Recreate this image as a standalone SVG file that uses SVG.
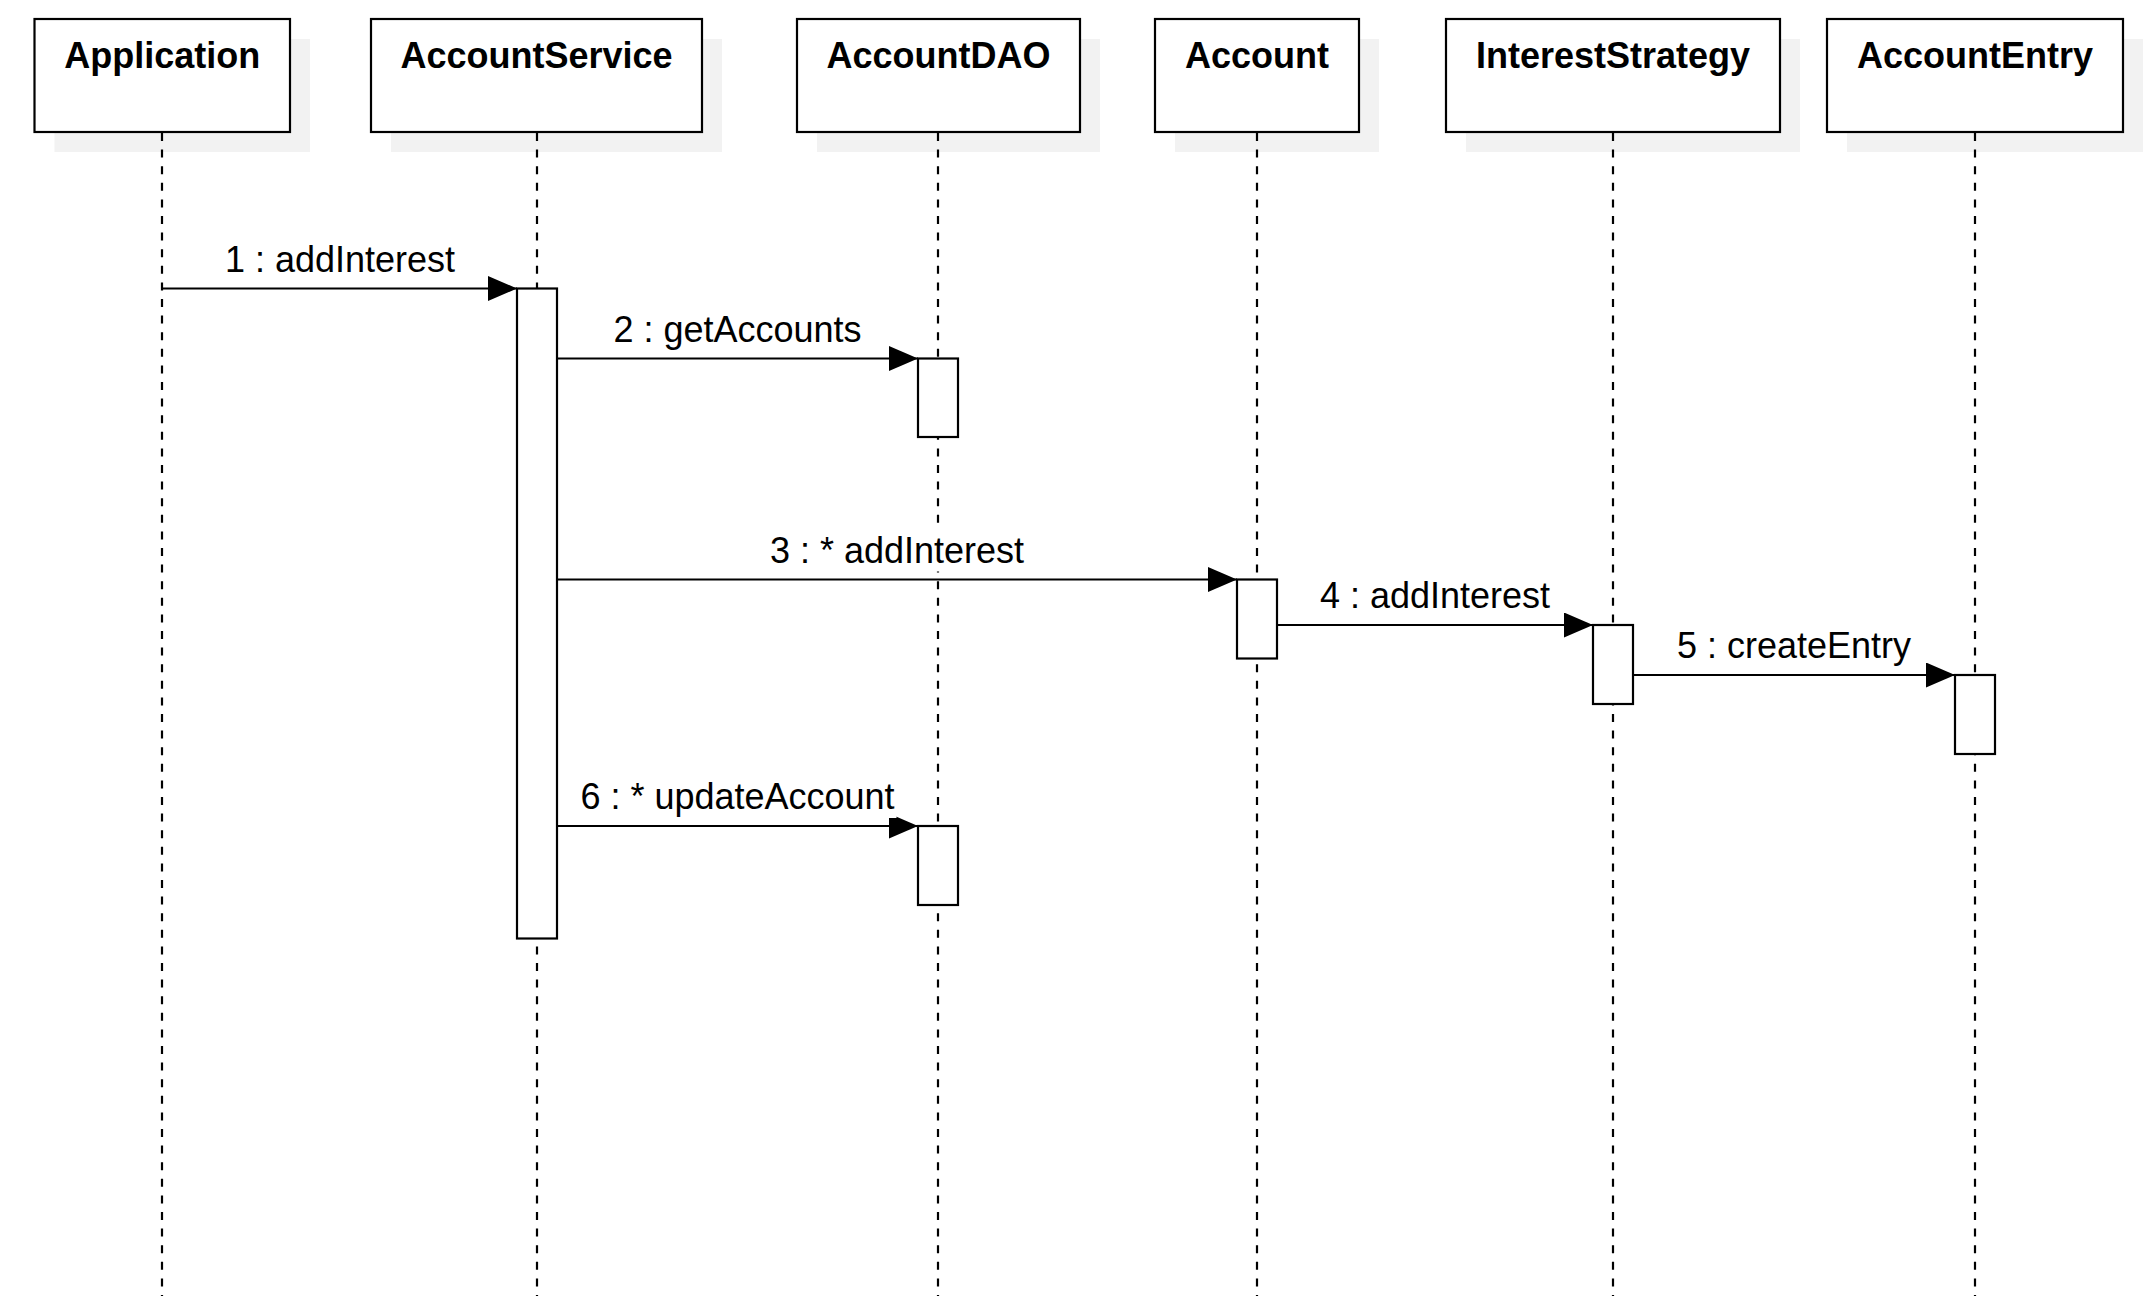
<svg xmlns="http://www.w3.org/2000/svg" width="2154" height="1296" viewBox="0 0 2154 1296">
<style>
.bg{fill:#ffffff}
.shadow{fill:#f2f2f2;stroke:none}
.box{fill:#ffffff;stroke:#000000;stroke-width:2.2}
.title{font-family:"Liberation Sans",Arial,sans-serif;font-size:36px;font-weight:bold;fill:#000000;text-anchor:middle}
.life{stroke:#000000;stroke-width:2.2;stroke-dasharray:8 8.6;fill:none}
.act{fill:#ffffff;stroke:#000000;stroke-width:2.2}
.msg{stroke:#000000;stroke-width:2.2;fill:none;marker-end:url(#arrow)}
.lblbg{fill:#ffffff;stroke:none}
.label{font-family:"Liberation Sans",Arial,sans-serif;font-size:36px;fill:#000000;text-anchor:middle}
</style>
<defs>
<marker id="arrow" viewBox="0 0 29 25" markerWidth="29" markerHeight="25" refX="29" refY="12.5" orient="auto" markerUnits="userSpaceOnUse">
<path d="M0,0 L29,12.5 L0,25 Z" fill="#000000"/>
</marker>
</defs>
<rect class="bg" x="0" y="0" width="2154" height="1296"/>

<g id="Application">
<rect class="shadow" x="54.5" y="39" width="255.5" height="113"/>
<line class="life" x1="162" y1="133" x2="162" y2="1296"/>
<rect class="box" x="34.5" y="19" width="255.5" height="113"/>
<text class="title" x="162.2" y="68">Application</text>
</g>
<g id="AccountService">
<rect class="shadow" x="391" y="39" width="331" height="113"/>
<line class="life" x1="537" y1="133" x2="537" y2="1296"/>
<rect class="box" x="371" y="19" width="331" height="113"/>
<text class="title" x="536.5" y="68">AccountService</text>
</g>
<g id="AccountDAO">
<rect class="shadow" x="817" y="39" width="283" height="113"/>
<line class="life" x1="938" y1="133" x2="938" y2="1296"/>
<rect class="box" x="797" y="19" width="283" height="113"/>
<text class="title" x="938.5" y="68">AccountDAO</text>
</g>
<g id="Account">
<rect class="shadow" x="1175" y="39" width="204" height="113"/>
<line class="life" x1="1257" y1="133" x2="1257" y2="1296"/>
<rect class="box" x="1155" y="19" width="204" height="113"/>
<text class="title" x="1257" y="68">Account</text>
</g>
<g id="InterestStrategy">
<rect class="shadow" x="1466" y="39" width="334" height="113"/>
<line class="life" x1="1613" y1="133" x2="1613" y2="1296"/>
<rect class="box" x="1446" y="19" width="334" height="113"/>
<text class="title" x="1613" y="68">InterestStrategy</text>
</g>
<g id="AccountEntry">
<rect class="shadow" x="1847" y="39" width="296" height="113"/>
<line class="life" x1="1975" y1="133" x2="1975" y2="1296"/>
<rect class="box" x="1827" y="19" width="296" height="113"/>
<text class="title" x="1975" y="68">AccountEntry</text>
</g>

<g id="activations">
<rect class="act" x="517" y="288.5" width="40" height="650"/>
<rect class="act" x="918" y="358.5" width="40" height="78.5"/>
<rect class="act" x="1237" y="579.5" width="40" height="79"/>
<rect class="act" x="1593" y="625" width="40" height="79"/>
<rect class="act" x="1955" y="675" width="40" height="79"/>
<rect class="act" x="918" y="826" width="40" height="79"/>
</g>

<g id="connectors">
<line class="msg" x1="162" y1="288.5" x2="517" y2="288.5"/>
<line class="msg" x1="557" y1="358.5" x2="918" y2="358.5"/>
<line class="msg" x1="557" y1="579.5" x2="1237" y2="579.5"/>
<line class="msg" x1="1277" y1="625" x2="1593" y2="625"/>
<line class="msg" x1="1633" y1="675" x2="1955" y2="675"/>
<line class="msg" x1="557" y1="826" x2="918" y2="826"/>
<rect class="lblbg" x="223" y="236.5" width="234" height="44"/>
<text class="label" x="340" y="271.5">1 : addInterest</text>
<rect class="lblbg" x="611.5" y="306.5" width="252" height="44"/>
<text class="label" x="737.5" y="341.5">2 : getAccounts</text>
<rect class="lblbg" x="768" y="527.5" width="258" height="44"/>
<text class="label" x="897" y="562.5">3 : * addInterest</text>
<rect class="lblbg" x="1318" y="573" width="234" height="44"/>
<text class="label" x="1435" y="608">4 : addInterest</text>
<rect class="lblbg" x="1675" y="623" width="238" height="44"/>
<text class="label" x="1794" y="658">5 : createEntry</text>
<rect class="lblbg" x="578.5" y="774" width="318" height="44"/>
<text class="label" x="737.5" y="809">6 : * updateAccount</text>
</g>
</svg>
